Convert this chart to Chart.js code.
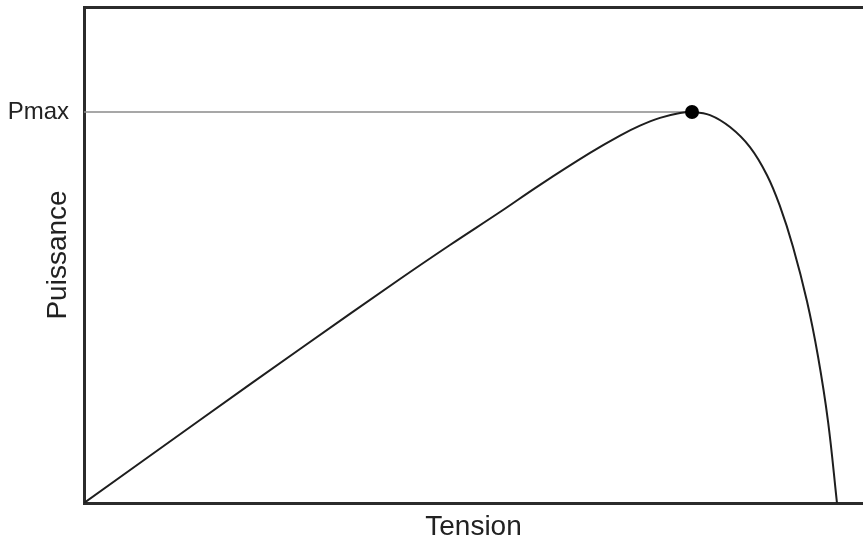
<!DOCTYPE html>
<html>
<head>
<meta charset="utf-8">
<script src="https://cdn.jsdelivr.net/npm/chart.js@4/dist/chart.umd.min.js"></script>
<style>
  html, body { margin: 0; padding: 0; background: #fff; overflow: hidden; }
</style>
</head>
<body>
<canvas id="chart" width="863" height="541"></canvas>
<script>
// courbe P(V) (unites arbitraires, 0..100)
const tension   = [0, 14.89, 27.73, 40.56, 46.98, 53.40, 58.54, 64.96, 68.81, 71.37, 73.94, 76.51, 78.05,
                   80.36, 82.93, 85.49, 87.68, 89.35, 91.01, 92.81, 94.22, 95.51, 96.66];
const puissance = [0, 16.73, 31.05, 45.16, 52.02, 58.67, 64.15, 70.58, 74.07, 76.07, 77.64, 78.63, 78.83,
                   78.21, 75.79, 71.75, 66.09, 59.80, 51.67, 40.67, 29.58, 16.47, 0];

// point de puissance maximale
const vmp  = [78.05];
const pmax = [78.83];
const yTickLabels = ['Pmax'];

const textColor = '#222';
const frameColor = '#2b2b2b';

const noPadX = (h) => (s) => { s.height = h; s.paddingLeft = 0; s.paddingRight = 0; };

new Chart(document.getElementById('chart'), {
  type: 'line',
  data: {
    datasets: [
      {
        // le point noir
        data: vmp.map((v, i) => ({ x: v, y: pmax[i] })),
        showLine: false,
        pointRadius: 7,
        pointBackgroundColor: '#000',
        pointBorderWidth: 0
      },
      {
        // la courbe
        data: tension.map((v, i) => ({ x: v, y: puissance[i] })),
        borderColor: '#1e1e1e',
        borderWidth: 2,
        pointRadius: 0,
        tension: 0.4
      },
      {
        // trait horizontal Pmax
        data: [{ x: 0, y: pmax[0] }, { x: vmp[0], y: pmax[0] }],
        borderColor: '#8a8a8a',
        borderWidth: 1.5,
        pointRadius: 0
      }
    ]
  },
  options: {
    responsive: false,
    animation: false,
    layout: { padding: 0, autoPadding: false },
    plugins: {
      legend: { display: false },
      tooltip: { enabled: false }
    },
    scales: {
      x: {
        type: 'linear',
        min: 0,
        max: 100,
        grid: { display: false },
        border: { display: true, color: frameColor, width: 3 },
        ticks: { display: false },
        title: {
          display: true,
          text: 'Tension',
          color: textColor,
          font: { family: 'Liberation Sans', size: 28, lineHeight: 1 },
          padding: { top: 0, bottom: 0 }
        },
        afterFit: noPadX(38)
      },
      x2: {
        type: 'linear',
        position: 'top',
        min: 0,
        max: 100,
        grid: { display: false },
        border: { display: true, color: frameColor, width: 3 },
        ticks: { display: false },
        afterFit: noPadX(7)
      },
      y: {
        min: 0,
        max: 100,
        grid: { display: false },
        border: { display: true, color: frameColor, width: 3 },
        afterBuildTicks: (s) => { s.ticks = pmax.map(v => ({ value: v })); },
        ticks: {
          padding: 7,
          color: textColor,
          font: { family: 'Liberation Sans', size: 24 },
          callback: (v, i) => yTickLabels[i]
        },
        title: {
          display: true,
          text: 'Puissance',
          color: textColor,
          font: { family: 'Liberation Sans', size: 28, lineHeight: 1 },
          padding: { top: 44, bottom: 0 }
        },
        afterFit: (s) => { s.width = 84; s.paddingTop = 0; s.paddingBottom = 0; }
      }
    }
  }
});
</script>
</body>
</html>
